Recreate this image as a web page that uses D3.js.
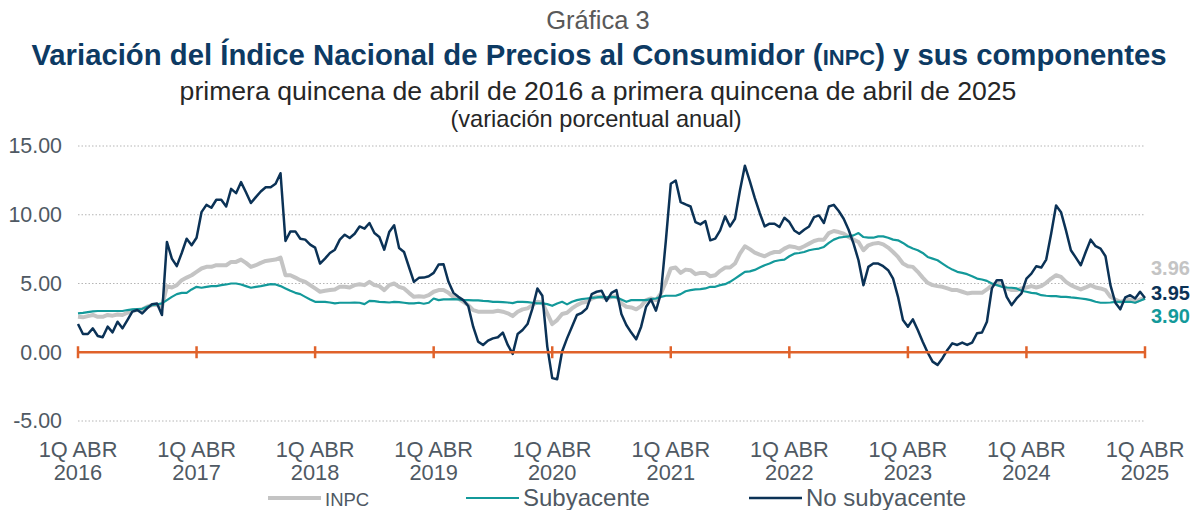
<!DOCTYPE html>
<html>
<head>
<meta charset="utf-8">
<script src="https://cdn.jsdelivr.net/npm/d3@7"></script>
<style>
  body { margin: 0; background: #fff; }
  svg { display: block; font-family: "Liberation Sans", Arial, sans-serif; }
</style>
</head>
<body>
<div id="chart-container"></div>
<script>
// datos quincenales, 1Q abr 2016 ... 1Q abr 2025
const inpc = [
  2.58,2.54,2.63,2.71,2.58,2.58,2.71,2.66,2.75,2.71,2.87,3.02,3.07,3.12,3.31,3.43,3.43,3.31,
  4.81,4.71,4.88,5.24,5.43,5.60,5.85,6.09,6.21,6.21,6.33,6.33,6.33,6.57,6.57,6.74,6.50,6.21,6.33,6.50,6.64,6.69,6.74,6.88,
  5.60,5.60,5.43,5.24,5.12,4.88,4.64,4.40,4.47,4.52,4.57,4.76,4.76,4.71,4.88,4.95,4.88,5.12,4.88,4.81,4.52,4.88,5.00,4.76,4.64,4.32,4.03,4.08,
  4.03,4.15,4.40,4.52,4.52,4.32,4.03,3.91,3.67,3.43,3.07,2.95,2.95,2.95,2.95,3.02,2.95,2.83,2.63,2.95,3.12,3.19,3.43,3.67,3.60,2.83,2.05,2.34,2.78,2.87,
  3.19,3.43,3.60,3.67,3.91,4.03,4.03,3.91,4.03,4.08,3.55,3.31,3.26,3.12,3.36,3.79,3.91,3.79,4.28,5.12,6.09,6.16,5.77,6.01,5.97,5.68,5.77,5.77,5.53,5.60,
  5.92,6.16,6.16,6.45,7.17,7.71,7.50,7.25,7.10,
  6.98,7.17,7.29,7.29,7.54,7.71,7.66,7.54,7.71,7.90,8.09,8.19,8.19,8.67,8.82,8.74,8.62,8.38,8.19,8.02,7.42,7.78,7.90,7.95,7.85,7.61,7.29,6.93,6.45,6.26,
  6.21,5.85,5.43,5.05,4.88,4.81,4.76,4.64,4.52,4.52,4.40,4.28,4.32,4.32,4.32,4.57,4.88,5.00,4.88,4.64,4.52,4.52,4.64,4.71,4.81,4.71,4.81,5.05,5.36,5.60,
  5.48,5.12,4.88,4.71,4.57,4.71,4.88,4.71,4.64,4.52,4.03,3.84,3.67,3.79,3.84,3.67,3.84,3.96
];
const subyacente = [
  2.83,2.87,2.92,2.97,3.00,3.00,3.00,3.00,3.00,3.00,3.07,3.12,3.14,3.16,3.31,3.43,3.48,3.55,
  3.79,4.03,4.23,4.32,4.32,4.57,4.76,4.69,4.76,4.81,4.81,4.88,4.93,5.00,5.00,4.93,4.81,4.69,4.76,4.81,4.88,4.95,4.93,4.81,
  4.64,4.47,4.32,4.23,4.03,3.84,3.67,3.67,3.67,3.62,3.55,3.60,3.60,3.60,3.62,3.60,3.50,3.74,3.72,3.67,3.65,3.62,3.67,3.65,3.60,3.55,3.55,3.60,
  3.53,3.60,3.91,3.79,3.84,3.84,3.86,3.84,3.79,3.79,3.77,3.77,3.74,3.72,3.67,3.67,3.65,3.62,3.57,3.67,3.67,3.65,3.60,3.55,3.55,3.50,3.38,3.55,3.67,3.48,
  3.67,3.79,3.86,3.91,3.96,3.99,4.03,3.99,4.03,3.99,3.84,3.67,3.79,3.79,3.79,3.79,3.86,3.91,4.03,4.11,4.11,4.11,4.23,4.44,4.52,4.57,4.59,4.64,4.76,4.76,
  4.88,4.95,5.12,5.36,5.60,5.85,
  5.88,5.99,6.16,6.33,6.45,6.62,6.69,6.74,6.98,7.17,7.22,7.29,7.42,7.49,7.54,7.66,7.95,8.19,8.33,8.38,8.43,8.50,8.67,8.38,8.33,8.33,8.43,8.43,8.33,8.19,
  8.14,7.95,7.71,7.54,7.42,7.22,6.93,6.81,6.69,6.45,6.21,6.01,5.85,5.77,5.68,5.53,5.36,5.29,5.19,5.00,4.88,4.76,4.71,4.69,4.64,4.47,4.40,4.32,4.28,4.15,
  4.11,4.08,4.08,4.03,4.03,3.99,3.96,3.91,3.86,3.79,3.67,3.60,3.60,3.62,3.67,3.67,3.67,3.67,3.60,3.74,3.90
];
const noSubyacente = [
  2.05,1.33,1.33,1.74,1.18,1.09,1.86,1.45,2.22,1.74,2.34,2.95,3.07,2.83,3.19,3.50,3.55,2.71,
  8.02,6.81,6.26,7.22,8.26,7.78,8.33,10.19,10.72,10.51,11.09,11.09,10.60,11.88,11.57,12.37,11.64,10.85,11.28,11.69,12.00,12.00,12.25,13.02,
  8.09,8.79,8.79,8.26,8.19,7.83,7.61,6.45,6.81,7.22,7.46,8.19,8.55,8.31,8.62,9.15,8.99,9.40,8.67,8.38,7.46,8.74,9.23,7.58,7.29,6.20,5.12,5.41,
  5.43,5.53,5.77,6.38,6.40,5.12,4.32,4.03,3.79,3.36,1.86,0.77,0.53,0.85,1.01,1.09,1.43,0.53,-0.12,1.33,1.62,2.05,3.19,4.64,4.11,0.41,-1.88,-1.96,0.05,1.01,
  1.86,2.71,2.87,3.19,4.23,4.40,4.47,3.74,4.32,4.52,2.78,1.98,1.43,0.94,1.86,3.31,3.84,3.02,4.28,8.10,12.25,12.49,10.92,10.75,10.60,9.47,9.30,9.54,8.14,8.26,
  8.86,9.88,9.15,9.71,11.76,13.57,
  12.45,11.22,10.13,9.15,9.35,9.35,9.11,9.78,9.47,8.86,8.62,8.91,9.15,9.83,9.95,9.40,10.60,10.72,10.27,9.71,8.91,7.90,6.69,4.88,6.21,6.45,6.45,6.26,5.97,5.36,
  4.03,2.34,1.86,2.39,1.62,0.77,-0.02,-0.68,-0.92,-0.43,0.17,0.65,0.53,0.70,0.53,0.70,1.38,1.43,2.22,4.64,5.24,5.24,4.03,3.43,3.91,4.28,5.36,5.72,6.26,6.16,
  6.74,8.62,10.68,10.19,8.86,7.42,6.88,6.33,7.29,8.19,7.71,7.54,6.98,4.88,3.60,3.12,3.99,4.15,3.91,4.40,3.95
];
const years = [2016, 2017, 2018, 2019, 2020, 2021, 2022, 2023, 2024, 2025];
const yTicks = [-5, 0, 5, 10, 15];
const finales = [
  {label: "3.96", color: "#c4c4c4", y: 268},
  {label: "3.95", color: "#0b3256", y: 293},
  {label: "3.90", color: "#13999a", y: 316}
];

const W = 1193, H = 510;
const svg = d3.select("#chart-container").append("svg")
    .attr("width", W).attr("height", H);

const x = d3.scaleLinear().domain([0, inpc.length - 1]).range([78, 1145]);
const y = d3.scaleLinear().domain([-5, 15]).range([421, 146]);

// titulos
svg.append("text").attr("x", 598).attr("y", 29).attr("text-anchor", "middle")
    .style("font-size", "25.5px").style("fill", "#595959").text("Gráfica 3");
const t = svg.append("text").attr("x", 599).attr("y", 65).attr("text-anchor", "middle")
    .style("font-size", "29.3px").style("font-weight", "bold").style("fill", "#0d3a63");
t.append("tspan").text("Variación del Índice Nacional de Precios al Consumidor (");
t.append("tspan").style("font-size", "22px").text("INPC");
t.append("tspan").text(") y sus componentes");
svg.append("text").attr("x", 598).attr("y", 100).attr("text-anchor", "middle")
    .style("font-size", "26.6px").style("fill", "#262626")
    .text("primera quincena de abril de 2016 a primera quincena de abril de 2025");
svg.append("text").attr("x", 596).attr("y", 127).attr("text-anchor", "middle")
    .style("font-size", "23.6px").style("fill", "#262626")
    .text("(variación porcentual anual)");

// rejilla
svg.append("g").selectAll("line")
  .data(yTicks.filter(d => d !== 0))
  .enter().append("line")
    .attr("x1", x(0)).attr("x2", x(inpc.length - 1))
    .attr("y1", d => y(d)).attr("y2", d => y(d))
    .style("stroke", "#b5b5b5").style("stroke-width", 1)
    .style("stroke-dasharray", "1.5,2");

// eje y
const yAxis = svg.append("g")
    .attr("transform", "translate(" + 78 + ",0)")
    .call(d3.axisLeft(y).tickValues(yTicks).tickSize(0).tickPadding(16)
      .tickFormat(d => d.toFixed(2)));
yAxis.select(".domain").remove();
yAxis.selectAll("text").style("font-size", "21.4px").style("fill", "#4f5963")
    .style("font-family", "Liberation Sans, Arial, sans-serif");

// lineas
const line = d3.line().x((d, i) => x(i)).y(d => y(d));
svg.append("path").datum(inpc).attr("d", line)
    .style("fill", "none").style("stroke", "#c4c4c4").style("stroke-width", 4)
    .style("stroke-linejoin", "round");
svg.append("path").datum(subyacente).attr("d", line)
    .style("fill", "none").style("stroke", "#13999a").style("stroke-width", 2.2)
    .style("stroke-linejoin", "round");
svg.append("path").datum(noSubyacente).attr("d", line)
    .style("fill", "none").style("stroke", "#0b3256").style("stroke-width", 2.5)
    .style("stroke-linejoin", "round");

// eje x en cero
const xTickIdx = years.map((d, i) => i * 24);
svg.append("line")
    .attr("x1", x(0)).attr("x2", x(inpc.length - 1))
    .attr("y1", y(0)).attr("y2", y(0))
    .style("stroke", "#e0622a").style("stroke-width", 2.5);
svg.append("g").selectAll("line")
  .data(xTickIdx).enter().append("line")
    .attr("x1", d => x(d)).attr("x2", d => x(d))
    .attr("y1", y(0) - 6).attr("y2", y(0) + 6)
    .style("stroke", "#e0622a").style("stroke-width", 2.5);

const xl = svg.append("g").selectAll("text")
  .data(years).enter().append("text")
    .attr("x", (d, i) => x(i * 24)).attr("y", 457)
    .attr("text-anchor", "middle")
    .style("font-size", "21.8px").style("fill", "#4f5963");
xl.append("tspan").attr("x", (d, i) => x(i * 24)).text("1Q ABR");
xl.append("tspan").attr("x", (d, i) => x(i * 24)).attr("dy", 23).text(d => d);

// valores finales
svg.append("g").selectAll("text")
  .data(finales).enter().append("text")
    .attr("x", 1151).attr("y", d => d.y + 7)
    .style("font-size", "20px").style("font-weight", "bold")
    .style("fill", d => d.color).text(d => d.label);

// leyenda
const legend = [
  {name: "INPC", color: "#c4c4c4", w: 4, x: 268, size: "18.5px"},
  {name: "Subyacente", color: "#13999a", w: 2.2, x: 466, size: "24px"},
  {name: "No subyacente", color: "#0b3256", w: 2.5, x: 749, size: "24px"}
];
const lg = svg.append("g").selectAll("g").data(legend).enter().append("g");
lg.append("line").attr("x1", d => d.x).attr("x2", d => d.x + 53)
    .attr("y1", 498).attr("y2", 498)
    .style("stroke", d => d.color).style("stroke-width", d => d.w);
lg.append("text").attr("x", d => d.x + 57).attr("y", 506)
    .style("font-size", d => d.size).style("fill", "#4f5963").text(d => d.name);
</script>
</body>
</html>
